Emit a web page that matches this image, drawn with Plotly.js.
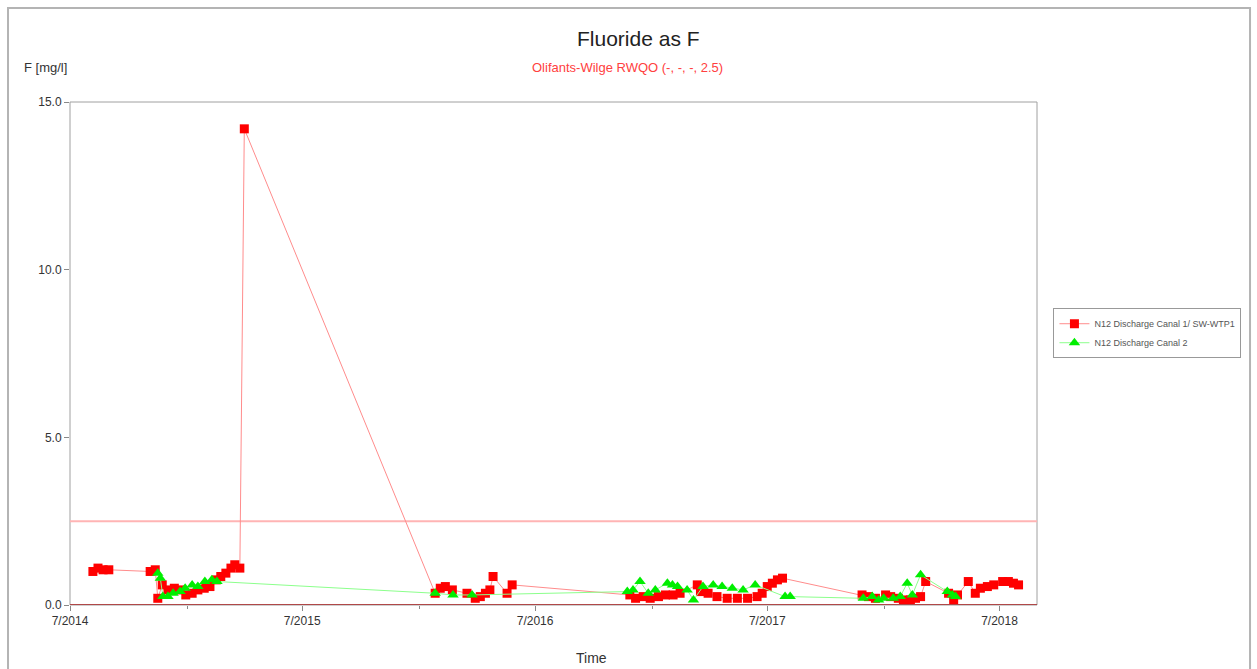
<!DOCTYPE html>
<html>
<head>
<meta charset="utf-8">
<script src="https://cdn.plot.ly/plotly-3.0.1.min.js"></script>
<style>html,body{margin:0;padding:0;background:#fff;}#chart{width:1257px;height:669px;}</style>
</head>
<body>
<div id="chart"></div>
<script>
// ---- Data ----
const canal1Name = "N12 Discharge Canal 1/ SW-WTP1";
const canal1Dates = [
  "2014-08-06","2014-08-14","2014-08-22","2014-08-31","2014-11-04","2014-11-12","2014-11-16","2014-11-23",
  "2014-12-02","2014-12-12","2014-12-21","2014-12-30","2015-01-09","2015-01-18","2015-01-28","2015-02-06",
  "2015-02-16","2015-02-23","2015-03-03","2015-03-11","2015-03-17","2015-03-25","2015-04-01",
  "2016-01-26","2016-02-03","2016-02-11","2016-02-22","2016-03-16","2016-03-29","2016-04-06","2016-04-14",
  "2016-04-21","2016-04-26","2016-05-18","2016-05-26",
  "2016-11-27","2016-12-06","2016-12-18","2016-12-29","2017-01-11","2017-01-22","2017-02-03","2017-02-14","2017-03-13",
  "2017-03-18","2017-03-30","2017-04-13","2017-04-29","2017-05-15","2017-05-31","2017-06-15","2017-06-23",
  "2017-07-01","2017-07-09","2017-07-17","2017-07-25",
  "2017-11-27","2017-12-07","2017-12-18","2018-01-03","2018-01-11","2018-01-23","2018-01-31","2018-02-11",
  "2018-02-19","2018-02-27","2018-03-07","2018-04-12","2018-04-20","2018-04-26","2018-05-13","2018-05-24",
  "2018-06-01","2018-06-12","2018-06-22","2018-07-06","2018-07-15","2018-07-23","2018-07-31"
];
const canal1Values = [
  1.0,1.1,1.05,1.05,1.0,1.05,0.2,0.6,
  0.45,0.5,0.45,0.3,0.35,0.45,0.5,0.55,
  0.75,0.85,0.95,1.1,1.2,1.1,14.2,
  0.35,0.5,0.55,0.45,0.35,0.2,0.25,0.35,
  0.45,0.85,0.35,0.6,
  0.3,0.2,0.25,0.2,0.25,0.3,0.3,0.35,0.6,
  0.4,0.35,0.25,0.2,0.2,0.2,0.25,0.35,
  0.55,0.65,0.75,0.8,
  0.3,0.25,0.2,0.3,0.25,0.2,0.15,0.15,
  0.2,0.25,0.7,0.35,0.15,0.3,0.7,0.35,
  0.5,0.55,0.6,0.7,0.7,0.65,0.6
];
const canal2Name = "N12 Discharge Canal 2";
const canal2Dates = [
  "2014-11-16","2014-11-20","2014-11-24","2014-12-02","2014-12-10","2014-12-21","2014-12-29","2015-01-09",
  "2015-01-18","2015-01-29","2015-02-09","2015-02-17",
  "2016-01-26","2016-02-23","2016-03-24",
  "2016-11-23","2016-12-02","2016-12-13","2016-12-26","2017-01-06","2017-01-25","2017-02-02","2017-02-10",
  "2017-02-25","2017-03-07","2017-03-22","2017-04-07","2017-04-21","2017-05-07","2017-05-24","2017-06-12",
  "2017-07-29","2017-08-06",
  "2017-11-29","2017-12-13","2017-12-23","2017-12-31","2018-01-15","2018-01-26","2018-02-06","2018-02-14",
  "2018-02-27","2018-04-10","2018-04-18","2018-04-23"
];
const canal2Values = [
  0.95,0.8,0.25,0.25,0.35,0.4,0.5,0.6,
  0.55,0.7,0.75,0.7,
  0.35,0.3,0.3,
  0.4,0.45,0.7,0.35,0.45,0.65,0.6,0.55,
  0.45,0.15,0.55,0.6,0.55,0.5,0.45,0.6,
  0.25,0.25,
  0.2,0.25,0.15,0.2,0.2,0.25,0.65,0.3,
  0.9,0.4,0.3,0.25
];
const rwqoLimit = 2.5;
const xTickVals = ["2014-07-01","2015-07-01","2016-07-01","2017-07-01","2018-07-01"];
const xTickText = ["7/2014","7/2015","7/2016","7/2017","7/2018"];
const yTickVals = [0, 5, 10, 15];
const xRange = ["2014-07-01","2018-08-29"];
const yRange = [0, 15];

// ---- Chart ----
const font = "Liberation Sans, Arial, sans-serif";
const traces = [
  {
    type: "scatter", mode: "lines+markers", name: canal1Name,
    x: canal1Dates, y: canal1Values,
    line: {color: "#ff8c8c", width: 1},
    marker: {symbol: "square", size: 9, color: "#ff0000"}
  },
  {
    type: "scatter", mode: "lines+markers", name: canal2Name,
    x: canal2Dates, y: canal2Values,
    line: {color: "#8cff8c", width: 1},
    marker: {symbol: "triangle-up", size: 10, color: "#00ee00"}
  }
];

const layout = {
  width: 1257, height: 669,
  margin: {l: 70, r: 220, t: 102, b: 64},
  paper_bgcolor: "#ffffff", plot_bgcolor: "#ffffff",
  font: {family: font, size: 12, color: "#333"},
  showlegend: true,
  legend: {
    x: 1.017, xanchor: "left", y: 0.59, yanchor: "top",
    bordercolor: "#999", borderwidth: 1, bgcolor: "#fff",
    font: {family: font, size: 9, color: "#555"},
    tracegroupgap: 0, itemwidth: 30
  },
  xaxis: {
    type: "date", range: xRange,
    tickmode: "array", tickvals: xTickVals, ticktext: xTickText,
    ticks: "outside", ticklen: 5, tickcolor: "#888",
    minor: {ticks: "outside", ticklen: 3, tickcolor: "#888", dtick: "M6", tick0: "2014-07-01", showgrid: false},
    showgrid: false, zeroline: false, showline: false,
    tickfont: {family: font, size: 12, color: "#333"}
  },
  yaxis: {
    range: yRange, tickmode: "array", tickvals: yTickVals, tickformat: ".1f",
    ticks: "outside", ticklen: 5, tickcolor: "#888",
    showgrid: false, zeroline: false, showline: false,
    tickfont: {family: font, size: 12, color: "#333"}
  },
  shapes: [
    {type: "rect", xref: "paper", yref: "paper", x0: -0.0641, x1: 1.2203, y0: -0.16, y1: 1.1869,
     line: {color: "#b4b4b4", width: 2}, layer: "below"},
    {type: "rect", xref: "paper", yref: "paper", x0: 0, x1: 1, y0: 0, y1: 1,
     line: {color: "#a0a0a0", width: 1}, layer: "below"},
    {type: "line", xref: "paper", yref: "y", x0: 0, x1: 1, y0: rwqoLimit, y1: rwqoLimit,
     line: {color: "#ffb4b4", width: 2}, layer: "below"},
    {type: "line", xref: "paper", yref: "y", x0: 0, x1: 1, y0: 0, y1: 0,
     line: {color: "#b04848", width: 2}, layer: "above"}
  ],
  annotations: [
    {text: "Fluoride as F", xref: "paper", yref: "paper", x: 0.588, y: 1.127, xanchor: "center", yanchor: "middle",
     showarrow: false, font: {family: font, size: 21, color: "#222"}},
    {text: "Olifants-Wilge RWQO (-, -, -, 2.5)", xref: "paper", yref: "paper", x: 0.577, y: 1.069, xanchor: "center", yanchor: "middle",
     showarrow: false, font: {family: font, size: 13, color: "#ff4040"}},
    {text: "F [mg/l]", xref: "paper", yref: "paper", x: -0.05, y: 1.069, xanchor: "left", yanchor: "middle",
     showarrow: false, font: {family: font, size: 13, color: "#333"}},
    {text: "Time", xref: "paper", yref: "paper", x: 0.5395, y: -0.105, xanchor: "center", yanchor: "middle",
     showarrow: false, font: {family: font, size: 14, color: "#333"}}
  ]
};

Plotly.newPlot("chart", traces, layout, {staticPlot: true, displayModeBar: false});
</script>
</body>
</html>
